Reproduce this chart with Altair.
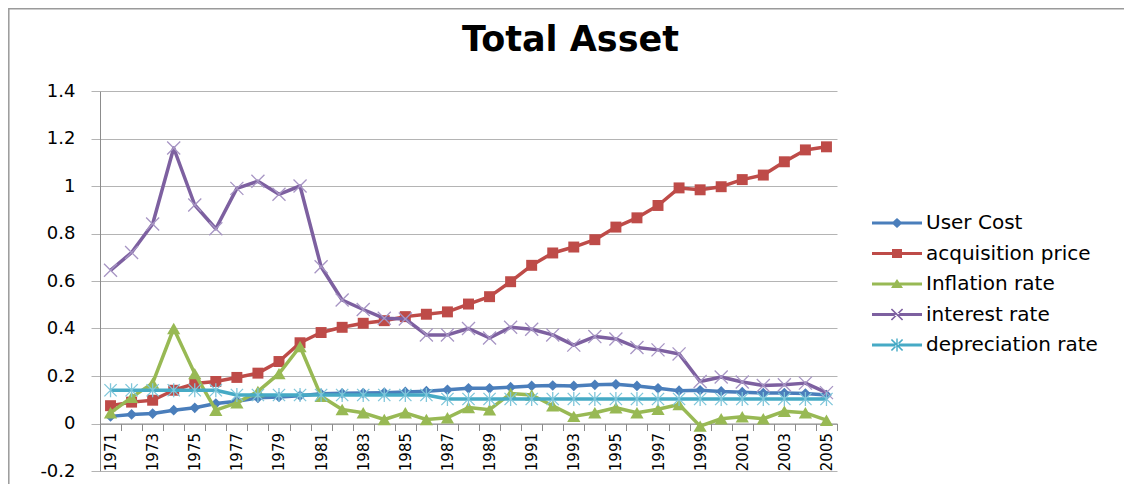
import altair as alt
import pandas as pd

years = list(range(1971, 2006))
series_names = ["User Cost", "acquisition price", "Inflation rate", "interest rate", "depreciation rate"]

user_cost = [0.030, 0.038, 0.042, 0.056, 0.066, 0.084, 0.094, 0.108, 0.112, 0.117,
             0.125, 0.127, 0.128, 0.130, 0.133, 0.136, 0.142, 0.148, 0.148, 0.153,
             0.158, 0.160, 0.158, 0.163, 0.165, 0.158, 0.148, 0.138, 0.140, 0.135,
             0.132, 0.128, 0.128, 0.126, 0.120]
acquisition_price = [0.075, 0.090, 0.098, 0.140, 0.168, 0.177, 0.194, 0.212, 0.261, 0.340,
                     0.383, 0.405, 0.422, 0.433, 0.450, 0.460, 0.470, 0.503, 0.534, 0.597,
                     0.666, 0.718, 0.743, 0.774, 0.827, 0.866, 0.918, 0.992, 0.984, 0.997,
                     1.027, 1.046, 1.102, 1.152, 1.165]
inflation_rate = [0.045, 0.110, 0.170, 0.400, 0.210, 0.056, 0.087, 0.135, 0.210, 0.324,
                  0.115, 0.059, 0.045, 0.017, 0.045, 0.017, 0.024, 0.067, 0.058, 0.126,
                  0.120, 0.075, 0.030, 0.045, 0.066, 0.045, 0.060, 0.080, -0.011, 0.020,
                  0.028, 0.020, 0.052, 0.045, 0.014]
interest_rate = [0.645, 0.720, 0.840, 1.160, 0.920, 0.820, 0.990, 1.020, 0.965, 1.000,
                 0.660, 0.520, 0.480, 0.443, 0.440, 0.373, 0.373, 0.400, 0.360, 0.405,
                 0.397, 0.373, 0.330, 0.366, 0.356, 0.320, 0.310, 0.293, 0.177, 0.196,
                 0.175, 0.160, 0.163, 0.170, 0.130]
depreciation_rate = [0.140, 0.140, 0.140, 0.140, 0.140, 0.140, 0.120, 0.120, 0.120, 0.120,
                     0.120, 0.120, 0.120, 0.120, 0.120, 0.120, 0.103, 0.103, 0.103, 0.103,
                     0.103, 0.103, 0.103, 0.103, 0.103, 0.103, 0.103, 0.103, 0.103, 0.103,
                     0.103, 0.103, 0.103, 0.103, 0.103]
y_ticks = [-0.2, 0.0, 0.2, 0.4, 0.6, 0.8, 1.0, 1.2, 1.4]

all_values = [user_cost, acquisition_price, inflation_rate, interest_rate, depreciation_rate]
rows = []
for name, vals in zip(series_names, all_values):
    for yr, v in zip(years, vals):
        rows.append({"year": yr, "value": v, "series": name})
df = pd.DataFrame(rows)

line_colors = ["#4a7ebb", "#be4b48", "#98b954", "#7d60a0", "#46aac5"]
marker_colors = ["#4f81bd", "#c0504d", "#9bbb59", "#a795c4", "#7fc6da"]
X_PATH = "M-1,-1L1,1M-1,1L1,-1"
AST_PATH = "M-1,-1L1,1M-1,1L1,-1M0,-1.15L0,1.15"
markers = [
    dict(shape="diamond", filled=True, size=115),
    dict(shape="square", filled=True, size=120),
    dict(shape="triangle-up", filled=True, size=175),
    dict(shape=X_PATH, filled=False, size=170, strokeWidth=1.3),
    dict(shape=AST_PATH, filled=False, size=150, strokeWidth=1.3),
]

LINE = "M-2.5,-0.16H2.5V0.16H-2.5Z"
legend_paths = [
    LINE + "M0,-0.5L0.55,0L0,0.5L-0.55,0Z",
    LINE + "M-0.5,-0.45H0.5V0.45H-0.5Z",
    LINE + "M0,-0.5L0.6,0.4H-0.6Z",
    LINE + "M-0.62,-0.5L-0.5,-0.6L0.62,0.5L0.5,0.6ZM-0.62,0.5L-0.5,0.6L0.62,-0.5L0.5,-0.6Z",
    LINE + "M-0.62,-0.5L-0.5,-0.6L0.62,0.5L0.5,0.6ZM-0.62,0.5L-0.5,0.6L0.62,-0.5L0.5,-0.6ZM-0.07,-0.65H0.07V0.65H-0.07Z",
]

FONT = "DejaVu Sans"
GRAY = "#8c8c8c"

x_enc = alt.X(
    "year:O",
    bandPosition=0.5,
    scale=alt.Scale(type="band", paddingInner=0, paddingOuter=0),
    axis=alt.Axis(
        title=None, orient="bottom", offset=-47.5, tickBand="extent",
        labelAngle=-90, labelExpr="datum.value % 2 == 1 ? datum.label : ''",
        labelFont=FONT, labelFontSize=15, labelColor="black", labelPadding=2,
        labelOverlap=False, labelBound=False,
        tickColor=GRAY, tickSize=7, domainColor=GRAY, domainWidth=1.2, grid=False,
    ),
)
y_enc = alt.Y(
    "value:Q",
    scale=alt.Scale(domain=[-0.2, 1.4], nice=False, zero=False),
    axis=alt.Axis(
        title=None, values=y_ticks, grid=True, gridColor="#b4b4b4", gridWidth=1,
        domainColor=GRAY, tickColor="#b4b4b4", tickSize=9,
        labelFont=FONT, labelFontSize=18, labelColor="black", labelPadding=16,
        labelExpr="(datum.value < 0 ? '-' : '') + format(abs(datum.value), '~g')",
    ),
)

base = alt.Chart(df)
layers = []
for i, name in enumerate(series_names):
    sub = base.transform_filter(alt.datum.series == name)
    layers.append(
        sub.mark_line(color=line_colors[i], strokeWidth=3.5, strokeJoin="round")
        .encode(x=x_enc, y=y_enc)
    )
    m = markers[i]
    kw = dict(shape=m["shape"], filled=m["filled"], size=m["size"], opacity=1,
              color=marker_colors[i] if not m["filled"] else line_colors[i])
    if "strokeWidth" in m:
        kw["strokeWidth"] = m["strokeWidth"]
    layers.append(sub.mark_point(**kw).encode(x=x_enc, y=y_enc))

legend_props = dict(
    title=None, orient="none", legendX=787, legendY=122,
    symbolSize=400, symbolStrokeWidth=0, padding=0,
    labelFont=FONT, labelFontSize=20, labelColor="black",
    labelOffset=19, rowPadding=10.5, labelLimit=400,
)
legend_layer = base.transform_filter(alt.datum.value > 100).mark_point(
    filled=True, opacity=1
).encode(
    x=x_enc, y=y_enc,
    color=alt.Color(
        "series:N",
        scale=alt.Scale(domain=series_names, range=line_colors),
        legend=alt.Legend(**legend_props),
    ),
    shape=alt.Shape(
        "series:N",
        scale=alt.Scale(domain=series_names, range=legend_paths),
        legend=alt.Legend(**legend_props),
    ),
)

frame = alt.Chart(pd.DataFrame({"k": [0]})).mark_rect(
    fill="transparent", stroke="#9a9a9a", strokeWidth=1.5
).encode(x=alt.value(-91.2), x2=alt.value(1200), y=alt.value(-82.2), y2=alt.value(700))

chart = alt.layer(frame, *layers, legend_layer).properties(
    width=737,
    height=380,
    title=alt.TitleParams(
        "Total Asset", font=FONT, fontSize=35, fontWeight="bold", color="black",
        anchor="middle", dx=102, offset=-78, baseline="alphabetic",
    ),
    autosize=alt.AutoSizeParams(type="none"),
    padding={"left": 92, "top": 83, "right": 287, "bottom": 13},
).configure_view(stroke="transparent")

chart.save("out.html", embed_options={"renderer": "svg", "actions": False})
